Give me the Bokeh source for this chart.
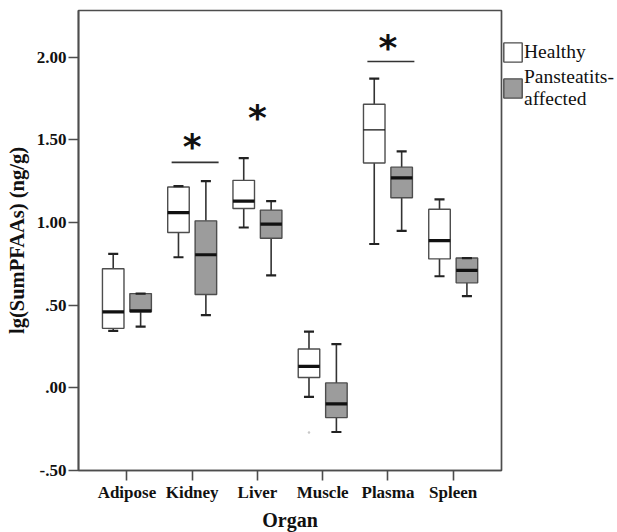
from bokeh.plotting import figure
from bokeh.models import (ColumnDataSource, FixedTicker, Legend, LegendItem, Range1d)
from bokeh.core.properties import value
from bokeh.embed import file_html
from bokeh.resources import INLINE

# ---- data ----
organs = ["Adipose", "Kidney", "Liver", "Muscle", "Plasma", "Spleen"]

healthy_low = [0.345, 0.79, 0.97, -0.055, 0.87, 0.675]
healthy_q1 = [0.36, 0.94, 1.085, 0.063, 1.36, 0.78]
healthy_med = [0.46, 1.06, 1.13, 0.13, 1.56, 0.89]
healthy_q3 = [0.72, 1.215, 1.255, 0.235, 1.715, 1.08]
healthy_high = [0.81, 1.22, 1.39, 0.34, 1.87, 1.14]

affected_low = [0.37, 0.44, 0.68, -0.267, 0.95, 0.555]
affected_q1 = [0.46, 0.565, 0.905, -0.18, 1.15, 0.635]
affected_med = [0.465, 0.805, 0.99, -0.097, 1.27, 0.71]
affected_q3 = [0.57, 1.01, 1.075, 0.03, 1.335, 0.785]
affected_high = [0.57, 1.25, 1.13, 0.265, 1.43, 0.785]

outlier_organ = ["Muscle"]
outlier_value = [-0.27]

sig_organs = ["Kidney", "Liver", "Plasma"]
sig_bar = [1.364, None, 1.974]
sig_star = [1.488, 1.664, 2.09]

y_ticks = [-0.5, 0.0, 0.5, 1.0, 1.5, 2.0]
y_tick_labels = ["-.50", ".00", ".50", "1.00", "1.50", "2.00"]

group_labels = ["Healthy", "Pansteatits-\naffected"]

# ---- styling / layout ----
SERIF = "Liberation Serif"
OFF = 0.21      # group offset from category center
BOX_W = 0.33
CAP_HW = 0.077
EDGE = "#4d4d4d"
GREY = "#9c9c9c"

p = figure(frame_width=423, frame_height=460, output_backend="svg",
           toolbar_location=None, x_range=Range1d(-0.742, 5.74),
           y_range=Range1d(-0.5, 2.2825),
           min_border_left=78, min_border_top=10, min_border_bottom=60,
           min_border_right=0)
p.background_fill_color = "white"
p.border_fill_color = "white"
p.grid.visible = False
p.outline_line_color = EDGE
p.outline_line_width = 1.7

idx = list(range(len(organs)))


def group(xoff, low, q1, med, q3, high, fill, thin_median=None):
    xs = [i + xoff for i in idx]
    src = ColumnDataSource(dict(
        x=xs, low=low, q1=q1, med=med, q3=q3, high=high,
        x0=[x - BOX_W / 2 for x in xs], x1=[x + BOX_W / 2 for x in xs],
        c0=[x - CAP_HW for x in xs], c1=[x + CAP_HW for x in xs],
        mw=[1.3 if (thin_median and organs[i] in thin_median) else 3.2 for i in idx],
    ))
    p.segment(x0="x", y0="q3", x1="x", y1="high", source=src, line_color="#333333", line_width=1.6)
    p.segment(x0="x", y0="low", x1="x", y1="q1", source=src, line_color="#333333", line_width=1.6)
    r = p.vbar(x="x", width=BOX_W, bottom="q1", top="q3", source=src,
               fill_color=fill, line_color=EDGE, line_width=1.4)
    p.segment(x0="x0", y0="med", x1="x1", y1="med", source=src, line_color="#111111", line_width="mw")
    p.segment(x0="c0", y0="high", x1="c1", y1="high", source=src, line_color="#222222", line_width=2.2)
    p.segment(x0="c0", y0="low", x1="c1", y1="low", source=src, line_color="#222222", line_width=2.2)
    return r


r_h = group(-OFF, healthy_low, healthy_q1, healthy_med, healthy_q3, healthy_high, "white",
            thin_median=["Plasma"])
r_a = group(OFF, affected_low, affected_q1, affected_med, affected_q3, affected_high, GREY)

# faint outlier point
p.scatter([organs.index(o) - OFF for o in outlier_organ], outlier_value, size=2.5,
          color="#c8c8c8", line_color=None)

# significance marks
bar_src = ColumnDataSource(dict(
    x0=[organs.index(o) - 0.315 for o, b in zip(sig_organs, sig_bar) if b is not None],
    x1=[organs.index(o) + 0.405 for o, b in zip(sig_organs, sig_bar) if b is not None],
    y=[b for b in sig_bar if b is not None]))
p.segment(x0="x0", y0="y", x1="x1", y1="y", source=bar_src, line_color="#333333", line_width=1.6)
star_src = ColumnDataSource(dict(x=[organs.index(o) for o in sig_organs], y=sig_star,
                                 t=["*"] * len(sig_organs)))
p.text(x="x", y="y", text="t", source=star_src, text_font=value("DejaVu Sans"),
       text_font_style="bold", text_font_size="36px", text_align="center",
       text_baseline="alphabetic", y_offset=5, text_color="#111111")

# axes
p.xaxis.ticker = FixedTicker(ticks=idx)
p.xaxis.major_label_overrides = {i: o for i, o in zip(idx, organs)}
p.yaxis.ticker = FixedTicker(ticks=y_ticks)
p.yaxis.major_label_overrides = {t: l for t, l in zip(y_ticks, y_tick_labels)}
for ax in (p.xaxis[0], p.yaxis[0]):
    ax.axis_line_color = EDGE
    ax.axis_line_width = 1.7
    ax.major_tick_line_color = EDGE
    ax.major_tick_line_width = 1.6
    ax.major_tick_out = 10
    ax.major_tick_in = 0
    ax.minor_tick_line_color = None
    ax.major_label_text_font = SERIF
    ax.major_label_text_font_style = "bold"
    ax.major_label_text_font_size = "17px"
    ax.major_label_text_color = "#111111"
    ax.axis_label_text_font = SERIF
    ax.axis_label_text_font_style = "bold"
    ax.axis_label_text_color = "#111111"
p.xaxis.major_label_standoff = 2
p.yaxis.major_label_standoff = 2
p.xaxis.axis_label = "Organ"
p.xaxis.axis_label_text_font_size = "20px"
p.xaxis.axis_label_standoff = 4
p.yaxis.axis_label = "lg(SumPFAAs) (ng/g)"
p.yaxis.axis_label_text_font_size = "20.5px"
p.yaxis.axis_label_standoff = 6

legend = Legend(items=[LegendItem(label=group_labels[0], renderers=[r_h]),
                       LegendItem(label=group_labels[1], renderers=[r_a])],
                location=(0, 360), margin=0, padding=0, spacing=2,
                glyph_width=23, glyph_height=24, label_standoff=0, label_width=91,
                label_text_font=SERIF, label_text_font_size="19.5px",
                label_text_line_height=1.03, label_text_color="#111111",
                border_line_color=None, background_fill_alpha=0)
p.add_layout(legend, "right")

open("out.html", "w").write(file_html(p, INLINE))
